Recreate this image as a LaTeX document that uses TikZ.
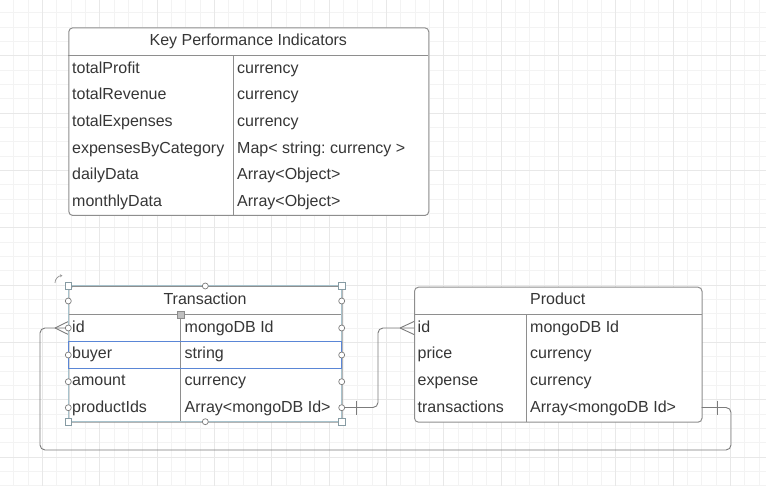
\documentclass[tikz,border=0pt]{standalone}
\usepackage{fontspec}
\setmainfont{Liberation Sans}
\usetikzlibrary{arrows.meta}
\definecolor{ink}{HTML}{363636}
\definecolor{tblgray}{HTML}{8E8E8E}
\definecolor{wire}{HTML}{7C7C7C}
\definecolor{selblue}{HTML}{A7C2CC}
\definecolor{rowblue}{HTML}{5A86D6}
\definecolor{gridminor}{HTML}{F3F3F3}
\definecolor{gridmajor}{HTML}{E8E8E8}
\frenchspacing
\begin{document}
\begin{tikzpicture}[x=1pt,y=-1pt,
  tablebox/.style={draw=tblgray, line width=1pt, rounded corners=4pt, inner sep=0pt, anchor=north west},
  sepline/.style={draw=tblgray, line width=1pt},
  cell/.style={text=ink, inner sep=0pt, anchor=base west, font=\fontsize{16pt}{19pt}\selectfont},
  title/.style={text=ink, inner sep=0pt, anchor=base, font=\fontsize{16pt}{19pt}\selectfont},
  wireline/.style={draw=wire, line width=0.9pt, rounded corners=5pt},
  crow/.style={draw=wire, line width=0.9pt},
  selframe/.style={draw=selblue, line width=1pt},
  handlecirc/.style={circle, draw=wire, fill=white, line width=0.7pt, minimum size=6pt, inner sep=0pt},
  handlesq/.style={rectangle, draw=selblue!80!black, fill=white, line width=0.7pt, minimum size=6.5pt, inner sep=0pt},
]
\useasboundingbox (0,0) rectangle (766,486);
\fill[white] (0,0) rectangle (766,486);

% background grid
\foreach \i in {0,...,53} \draw[gridminor, line width=0.8pt] (13.6+14.333*\i,0) -- (13.6+14.333*\i,486);
\foreach \i in {0,...,34} \draw[gridminor, line width=0.8pt] (0,12.7+14.333*\i) -- (766,12.7+14.333*\i);
\foreach \i in {0,...,13} \draw[gridmajor, line width=0.8pt] (42.3+57.333*\i,0) -- (42.3+57.333*\i,486);
\foreach \i in {0,...,8} \draw[gridmajor, line width=0.8pt] (0,55.7+57.333*\i) -- (766,55.7+57.333*\i);

% ---------- Key Performance Indicators ----------
\node[tablebox, fill=white, minimum width=360pt, minimum height=187.7pt] (kpi) at (68.3,27.3) {};
\draw[sepline] (68.3,55.5) -- (428.3,55.5);
\draw[sepline] (233.3,55.5) -- (233.3,215);
\node[title] (kpititle) at (248.3,46) {Key Performance Indicators};
\foreach \k/\v [count=\n] in {totalProfit/currency, totalRevenue/currency, totalExpenses/currency,
    expensesByCategory/{Map< string: currency >}, dailyData/Array<Object>, monthlyData/Array<Object>} {
  \node[cell] (kpik\n) at (72,73.3+26.67*\n-26.67) {\k};
  \node[cell] (kpiv\n) at (237,73.3+26.67*\n-26.67) {\v};
}

% ---------- Transaction ----------
\node[tablebox, fill=white, minimum width=273.4pt, minimum height=135.7pt] (tr) at (68.3,286) {};
\draw[sepline] (68.3,315) -- (341.7,315);
\draw[sepline] (180.7,315) -- (180.7,421.7);
\node[title] (trtitle) at (205,305) {Transaction};
\foreach \k/\v [count=\n] in {id/mongoDB Id, buyer/string, amount/currency, productIds/Array<mongoDB Id>} {
  \node[cell] (trk\n) at (72,332.3+26.67*\n-26.67) {\k};
  \node[cell] (trv\n) at (184.5,332.3+26.67*\n-26.67) {\v};
}

% ---------- Product ----------
\node[tablebox, fill=white, minimum width=287.5pt, minimum height=135pt] (pd) at (414,286.7) {};
\draw[sepline] (414,315) -- (701.5,315);
\draw[sepline] (526.7,315) -- (526.7,421.7);
\node[title] (pdtitle) at (557.7,305) {Product};
\foreach \k/\v [count=\n] in {id/mongoDB Id, price/currency, expense/currency, transactions/Array<mongoDB Id>} {
  \node[cell] (pdk\n) at (417.5,332.3+26.67*\n-26.67) {\k};
  \node[cell] (pdv\n) at (530,332.3+26.67*\n-26.67) {\v};
}

% connector end points on the entity edges
\coordinate (trL1) at (68.3,328);
\coordinate (trR4) at (341.7,407.5);
\coordinate (pdL1) at (414,328);
\coordinate (pdR4) at (701.5,407.5);

% productIds -> Product.id (one to many)
\draw[wireline] (trR4) -- (378,407.5) -- (378,328) -- (pdL1);
\draw[crow] (400,328) -- (414,321.5);
\draw[crow] (400,328) -- (414,334.5);
\draw[crow] (356,400.5) -- (356,414.5);

% transactions -> Transaction.id (one to many)
\draw[wireline] (pdR4) -- (731,407.5) -- (731,450) -- (40,450) -- (40,328) -- (trL1);
\draw[crow] (55,328) -- (68.3,321.5);
\draw[crow] (55,328) -- (68.3,334.5);
\draw[crow] (717,400.5) -- (717,414.5);

% ---------- selection overlay on Transaction ----------
\draw[selframe] (68.3,286) rectangle (341.7,421.7);
\draw[draw=rowblue, line width=1.2pt] (68.5,341.5) rectangle (341.5,368.5);
\draw[draw=black!40, line width=0.8pt, -{Stealth[length=2.5pt,width=3pt]}]
  (55,283) .. controls (55,279) and (58,276) .. (62.5,275.5);
\foreach \y [count=\n] in {301,328,355,381.7,407.7} {
  \node[handlecirc] (hl\n) at (68.3,\y) {};
  \node[handlecirc] (hr\n) at (341.7,\y) {};
}
\node[handlecirc] (ht) at (205.3,286) {};
\node[handlecirc] (hb) at (205.3,421.7) {};
\node[handlesq] (hnw) at (68.3,286) {};
\node[handlesq] (hne) at (341.7,286) {};
\node[handlesq] (hsw) at (68.3,421.7) {};
\node[handlesq] (hse) at (341.7,421.7) {};
\node[rectangle, draw=black!45, fill=black!25, minimum size=6.5pt, inner sep=0pt, line width=0.6pt] (hcol) at (180.7,315) {};
\end{tikzpicture}
\end{document}
